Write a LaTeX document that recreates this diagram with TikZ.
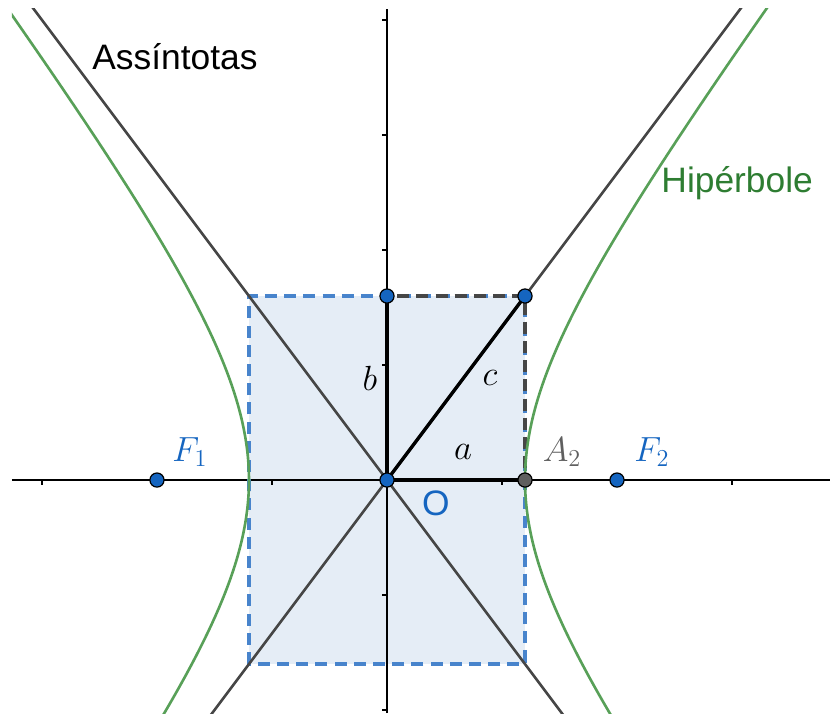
\documentclass[tikz,border=0pt]{standalone}
\usepackage{fontspec}
\newfontfamily\labelsans{Liberation Sans}
\usepackage{tikz}
\usetikzlibrary{positioning}
\usepackage{xcolor}
\definecolor{ptblue}{RGB}{21,101,192}
\definecolor{ptgray}{RGB}{95,95,95}
\definecolor{boxline}{RGB}{72,132,204}
\definecolor{boxfill}{RGB}{229,237,246}
\definecolor{asymgray}{RGB}{70,70,70}
\definecolor{hypgreen}{RGB}{88,160,88}
\definecolor{txtgreen}{RGB}{46,125,50}

\begin{document}
\begin{tikzpicture}[x=2cm, y=2cm,
  bluept/.style={circle, draw=black, line width=0.6pt, fill=ptblue, inner sep=0pt, minimum size=7pt},
  graypt/.style={bluept, fill=ptgray},
  mathlbl/.style={font=\fontsize{17.28}{20}\selectfont, inner sep=0pt},
  textlbl/.style={font=\labelsans\fontsize{17.5}{21}\selectfont, inner sep=0pt, anchor=base west},
  seg/.style={line width=1.7pt, black},
  boxedge/.style={line width=1.6pt, boxline, dash pattern=on 6pt off 3.5pt},
  asym/.style={line width=1.3pt, asymgray},
  axis/.style={line width=0.75pt, black}]

  \useasboundingbox (-3.365,-2.026) rectangle (3.852,4.174);

  % Define coordinates for the points
  \coordinate (O) at (0, 0);
  \coordinate (B) at (0, 1.6);
  \coordinate (P) at (1.2, 1.6);
  \coordinate (A2) at (1.2, 0);
  \coordinate (F1) at (-2, 0);
  \coordinate (F2) at (2, 0);
  \coordinate (Q2) at (-1.2, -1.6);
  \coordinate (xl) at (-3.261, 0);
  \coordinate (xr) at (3.852, 0);
  \coordinate (yb) at (0, -2.026);
  \coordinate (yt) at (0, 4.096);

  % Draw the box and the axes
  \fill[boxfill] (Q2) rectangle (P);
  \draw[axis] (xl) -- (xr);
  \draw[axis] (yb) -- (yt);
  \foreach \t in {-3,-2,-1,1,2,3} \draw[axis] (\t, 0) -- ++(0, -0.045);
  \foreach \t in {-2,-1,1,2,3,4} \draw[axis] (0, \t) -- ++(-0.045, 0);
  \draw[boxedge] (Q2) rectangle (P);
  \draw[line width=1.6pt, asymgray, dash pattern=on 6pt off 3.5pt, dash phase=4.5pt]
    (B) -- (P) -- (A2);

  % Draw the asymptotes and the hyperbola
  \begin{scope}
    \clip (-3.261, -2.026) rectangle (3.852, 4.096);
    \draw[asym] (-1.6, -2.1333) -- (3.2, 4.2667);
    \draw[asym] (-3.2, 4.2667) -- (1.6, -2.1333);
    \draw[line width=1.3pt, hypgreen] plot[domain=-1.8:1.8, samples=120, smooth]
      ({1.2*cosh(\x)}, {1.6*sinh(\x)});
    \draw[line width=1.3pt, hypgreen] plot[domain=-1.8:1.8, samples=120, smooth]
      ({-1.2*cosh(\x)}, {1.6*sinh(\x)});
  \end{scope}

  % Draw the segments a, b, c
  \draw[seg] (O) -- (B);
  \draw[seg] (O) -- (P);
  \draw[seg] (O) -- (A2);

  % Points
  \node[bluept] (nO) at (O) {};
  \node[bluept] (nB) at (B) {};
  \node[bluept] (nP) at (P) {};
  \node[graypt] (nA2) at (A2) {};
  \node[bluept] (nF1) at (F1) {};
  \node[bluept] (nF2) at (F2) {};

  % Labels
  \node[mathlbl, text=ptblue] (lF1) at (-1.713, 0.243) {$F_1$};
  \node[mathlbl, text=ptblue] (lF2) at (2.304, 0.243) {$F_2$};
  \node[mathlbl, text=ptgray] (lA2) at (1.522, 0.243) {$A_2$};
  \node[mathlbl] (la) at (0.661, 0.243) {$a$};
  \node[mathlbl] (lb) at (-0.148, 0.887) {$b$};
  \node[mathlbl] (lc) at (0.896, 0.887) {$c$};
  \node[mathlbl, font=\labelsans\fontsize{17.5}{21}\selectfont, text=ptblue] (lO) at (0.426, -0.2) {O};
  \node[textlbl] (lasym) at (-2.565, 3.574) {Assíntotas};
  \node[textlbl, text=txtgreen] (lhyp) at (2.383, 2.496) {Hipérbole};
\end{tikzpicture}
\end{document}
